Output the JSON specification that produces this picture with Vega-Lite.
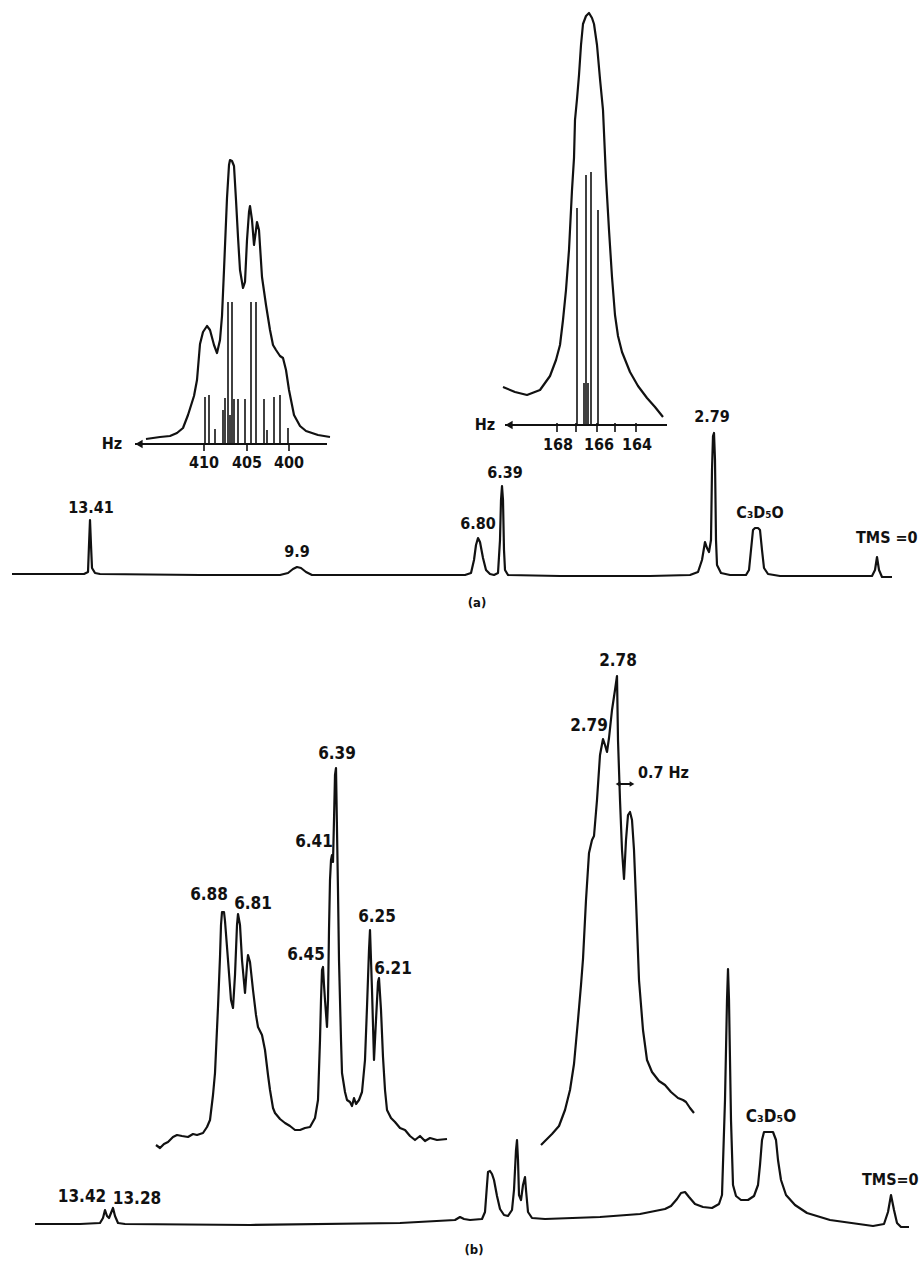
{
"$schema": "https://vega.github.io/schema/vega-lite/v6.json",
"width": 923, "height": 1262, "padding": 0, "autosize": {"type": "none"},
"background": "white",
"config": {"view": {"stroke": null}},
"datasets": {
"curves": [
{"s":"am","x":12,"y":574},{"s":"am","x":60,"y":574},{"s":"am","x":84,"y":574},{"s":"am","x":88,"y":572},{"s":"am","x":89,"y":545},{"s":"am","x":90,"y":520},{"s":"am","x":91,"y":545},{"s":"am","x":92,"y":568},{"s":"am","x":95,"y":573},{"s":"am","x":100,"y":574},{"s":"am","x":200,"y":575},{"s":"am","x":280,"y":575},{"s":"am","x":288,"y":573},{"s":"am","x":293,"y":569},{"s":"am","x":297,"y":567},{"s":"am","x":301,"y":568},{"s":"am","x":306,"y":572},{"s":"am","x":312,"y":575},{"s":"am","x":400,"y":575},{"s":"am","x":465,"y":575},{"s":"am","x":471,"y":573},{"s":"am","x":474,"y":560},{"s":"am","x":476,"y":545},{"s":"am","x":478,"y":538},{"s":"am","x":480,"y":542},{"s":"am","x":483,"y":558},{"s":"am","x":486,"y":570},{"s":"am","x":490,"y":574},{"s":"am","x":494,"y":575},{"s":"am","x":498,"y":573},{"s":"am","x":500,"y":540},{"s":"am","x":501,"y":500},{"s":"am","x":502,"y":486},{"s":"am","x":503,"y":500},{"s":"am","x":504,"y":550},{"s":"am","x":505,"y":570},{"s":"am","x":508,"y":575},{"s":"am","x":560,"y":576},{"s":"am","x":650,"y":576},{"s":"am","x":690,"y":575},{"s":"am","x":698,"y":572},{"s":"am","x":702,"y":560},{"s":"am","x":705,"y":542},{"s":"am","x":707,"y":548},{"s":"am","x":709,"y":552},{"s":"am","x":711,"y":540},{"s":"am","x":712,"y":470},{"s":"am","x":713,"y":436},{"s":"am","x":714,"y":433},{"s":"am","x":715,"y":460},{"s":"am","x":716,"y":540},{"s":"am","x":717,"y":565},{"s":"am","x":721,"y":573},{"s":"am","x":730,"y":575},{"s":"am","x":746,"y":575},{"s":"am","x":749,"y":570},{"s":"am","x":751,"y":550},{"s":"am","x":753,"y":530},{"s":"am","x":755,"y":528},{"s":"am","x":758,"y":528},{"s":"am","x":760,"y":530},{"s":"am","x":762,"y":550},{"s":"am","x":764,"y":568},{"s":"am","x":768,"y":574},{"s":"am","x":780,"y":576},{"s":"am","x":860,"y":576},{"s":"am","x":872,"y":576},{"s":"am","x":875,"y":570},{"s":"am","x":877,"y":557},{"s":"am","x":879,"y":570},{"s":"am","x":882,"y":577},{"s":"am","x":892,"y":577},
{"s":"a1","x":146,"y":439},{"s":"a1","x":160,"y":437},{"s":"a1","x":170,"y":436},{"s":"a1","x":177,"y":433},{"s":"a1","x":183,"y":428},{"s":"a1","x":188,"y":415},{"s":"a1","x":194,"y":396},{"s":"a1","x":197,"y":380},{"s":"a1","x":200,"y":344},{"s":"a1","x":203,"y":332},{"s":"a1","x":207,"y":326},{"s":"a1","x":210,"y":330},{"s":"a1","x":214,"y":345},{"s":"a1","x":217,"y":353},{"s":"a1","x":220,"y":340},{"s":"a1","x":222,"y":316},{"s":"a1","x":224,"y":270},{"s":"a1","x":227,"y":198},{"s":"a1","x":229,"y":165},{"s":"a1","x":230,"y":160},{"s":"a1","x":232,"y":161},{"s":"a1","x":234,"y":166},{"s":"a1","x":236,"y":200},{"s":"a1","x":238,"y":237},{"s":"a1","x":240,"y":270},{"s":"a1","x":243,"y":288},{"s":"a1","x":245,"y":282},{"s":"a1","x":247,"y":240},{"s":"a1","x":249,"y":212},{"s":"a1","x":250,"y":206},{"s":"a1","x":252,"y":220},{"s":"a1","x":254,"y":245},{"s":"a1","x":256,"y":230},{"s":"a1","x":257,"y":222},{"s":"a1","x":259,"y":230},{"s":"a1","x":262,"y":277},{"s":"a1","x":266,"y":305},{"s":"a1","x":270,"y":330},{"s":"a1","x":273,"y":345},{"s":"a1","x":276,"y":350},{"s":"a1","x":280,"y":356},{"s":"a1","x":283,"y":358},{"s":"a1","x":286,"y":370},{"s":"a1","x":289,"y":390},{"s":"a1","x":294,"y":415},{"s":"a1","x":300,"y":426},{"s":"a1","x":306,"y":431},{"s":"a1","x":318,"y":435},{"s":"a1","x":330,"y":437},
{"s":"a2","x":503,"y":387},{"s":"a2","x":515,"y":392},{"s":"a2","x":527,"y":395},{"s":"a2","x":540,"y":390},{"s":"a2","x":550,"y":376},{"s":"a2","x":556,"y":360},{"s":"a2","x":560,"y":345},{"s":"a2","x":563,"y":320},{"s":"a2","x":566,"y":290},{"s":"a2","x":569,"y":250},{"s":"a2","x":572,"y":190},{"s":"a2","x":574,"y":158},{"s":"a2","x":575,"y":120},{"s":"a2","x":577,"y":99},{"s":"a2","x":579,"y":75},{"s":"a2","x":581,"y":45},{"s":"a2","x":583,"y":24},{"s":"a2","x":586,"y":16},{"s":"a2","x":589,"y":13},{"s":"a2","x":592,"y":18},{"s":"a2","x":594,"y":24},{"s":"a2","x":597,"y":45},{"s":"a2","x":600,"y":79},{"s":"a2","x":603,"y":110},{"s":"a2","x":606,"y":178},{"s":"a2","x":609,"y":230},{"s":"a2","x":612,"y":277},{"s":"a2","x":615,"y":315},{"s":"a2","x":618,"y":336},{"s":"a2","x":622,"y":352},{"s":"a2","x":630,"y":372},{"s":"a2","x":638,"y":386},{"s":"a2","x":647,"y":398},{"s":"a2","x":655,"y":407},{"s":"a2","x":663,"y":417},
{"s":"bm","x":35,"y":1224},{"s":"bm","x":80,"y":1224},{"s":"bm","x":100,"y":1223},{"s":"bm","x":103,"y":1218},{"s":"bm","x":105,"y":1210},{"s":"bm","x":107,"y":1216},{"s":"bm","x":109,"y":1218},{"s":"bm","x":111,"y":1213},{"s":"bm","x":113,"y":1208},{"s":"bm","x":115,"y":1216},{"s":"bm","x":118,"y":1223},{"s":"bm","x":125,"y":1224},{"s":"bm","x":250,"y":1225},{"s":"bm","x":400,"y":1223},{"s":"bm","x":455,"y":1220},{"s":"bm","x":460,"y":1217},{"s":"bm","x":464,"y":1219},{"s":"bm","x":470,"y":1220},{"s":"bm","x":482,"y":1219},{"s":"bm","x":485,"y":1212},{"s":"bm","x":487,"y":1185},{"s":"bm","x":488,"y":1172},{"s":"bm","x":490,"y":1171},{"s":"bm","x":492,"y":1174},{"s":"bm","x":494,"y":1180},{"s":"bm","x":497,"y":1196},{"s":"bm","x":500,"y":1209},{"s":"bm","x":504,"y":1215},{"s":"bm","x":508,"y":1216},{"s":"bm","x":512,"y":1210},{"s":"bm","x":514,"y":1190},{"s":"bm","x":516,"y":1150},{"s":"bm","x":517,"y":1140},{"s":"bm","x":518,"y":1160},{"s":"bm","x":519,"y":1195},{"s":"bm","x":521,"y":1200},{"s":"bm","x":523,"y":1185},{"s":"bm","x":525,"y":1177},{"s":"bm","x":526,"y":1190},{"s":"bm","x":528,"y":1212},{"s":"bm","x":532,"y":1218},{"s":"bm","x":545,"y":1219},{"s":"bm","x":600,"y":1217},{"s":"bm","x":640,"y":1214},{"s":"bm","x":665,"y":1209},{"s":"bm","x":671,"y":1206},{"s":"bm","x":677,"y":1199},{"s":"bm","x":681,"y":1193},{"s":"bm","x":685,"y":1192},{"s":"bm","x":689,"y":1197},{"s":"bm","x":695,"y":1204},{"s":"bm","x":703,"y":1207},{"s":"bm","x":712,"y":1208},{"s":"bm","x":719,"y":1204},{"s":"bm","x":722,"y":1195},{"s":"bm","x":725,"y":1100},{"s":"bm","x":727,"y":1000},{"s":"bm","x":728,"y":969},{"s":"bm","x":729,"y":1000},{"s":"bm","x":731,"y":1120},{"s":"bm","x":733,"y":1185},{"s":"bm","x":736,"y":1196},{"s":"bm","x":741,"y":1200},{"s":"bm","x":748,"y":1200},{"s":"bm","x":754,"y":1196},{"s":"bm","x":758,"y":1185},{"s":"bm","x":760,"y":1165},{"s":"bm","x":762,"y":1140},{"s":"bm","x":764,"y":1132},{"s":"bm","x":773,"y":1132},{"s":"bm","x":776,"y":1140},{"s":"bm","x":778,"y":1160},{"s":"bm","x":781,"y":1180},{"s":"bm","x":786,"y":1195},{"s":"bm","x":795,"y":1205},{"s":"bm","x":807,"y":1213},{"s":"bm","x":830,"y":1220},{"s":"bm","x":873,"y":1226},{"s":"bm","x":884,"y":1224},{"s":"bm","x":888,"y":1212},{"s":"bm","x":891,"y":1195},{"s":"bm","x":894,"y":1210},{"s":"bm","x":897,"y":1223},{"s":"bm","x":901,"y":1227},{"s":"bm","x":909,"y":1227},
{"s":"b1","x":156,"y":1145},{"s":"b1","x":160,"y":1148},{"s":"b1","x":164,"y":1144},{"s":"b1","x":168,"y":1142},{"s":"b1","x":173,"y":1137},{"s":"b1","x":177,"y":1135},{"s":"b1","x":182,"y":1136},{"s":"b1","x":188,"y":1137},{"s":"b1","x":193,"y":1134},{"s":"b1","x":197,"y":1135},{"s":"b1","x":203,"y":1133},{"s":"b1","x":207,"y":1127},{"s":"b1","x":210,"y":1120},{"s":"b1","x":213,"y":1095},{"s":"b1","x":215,"y":1073},{"s":"b1","x":218,"y":1007},{"s":"b1","x":220,"y":957},{"s":"b1","x":221,"y":925},{"s":"b1","x":222,"y":912},{"s":"b1","x":224,"y":912},{"s":"b1","x":225,"y":921},{"s":"b1","x":228,"y":960},{"s":"b1","x":231,"y":1000},{"s":"b1","x":233,"y":1008},{"s":"b1","x":235,"y":975},{"s":"b1","x":237,"y":925},{"s":"b1","x":238,"y":914},{"s":"b1","x":240,"y":925},{"s":"b1","x":242,"y":960},{"s":"b1","x":245,"y":993},{"s":"b1","x":247,"y":965},{"s":"b1","x":248,"y":955},{"s":"b1","x":250,"y":962},{"s":"b1","x":253,"y":990},{"s":"b1","x":256,"y":1015},{"s":"b1","x":258,"y":1027},{"s":"b1","x":262,"y":1035},{"s":"b1","x":265,"y":1050},{"s":"b1","x":268,"y":1075},{"s":"b1","x":270,"y":1090},{"s":"b1","x":273,"y":1108},{"s":"b1","x":275,"y":1113},{"s":"b1","x":280,"y":1119},{"s":"b1","x":285,"y":1123},{"s":"b1","x":290,"y":1126},{"s":"b1","x":295,"y":1130},{"s":"b1","x":300,"y":1130},{"s":"b1","x":305,"y":1128},{"s":"b1","x":310,"y":1127},{"s":"b1","x":315,"y":1118},{"s":"b1","x":318,"y":1100},{"s":"b1","x":320,"y":1040},{"s":"b1","x":321,"y":1000},{"s":"b1","x":322,"y":970},{"s":"b1","x":323,"y":967},{"s":"b1","x":324,"y":985},{"s":"b1","x":325,"y":1000},{"s":"b1","x":327,"y":1027},{"s":"b1","x":328,"y":1000},{"s":"b1","x":329,"y":930},{"s":"b1","x":330,"y":880},{"s":"b1","x":331,"y":860},{"s":"b1","x":332,"y":855},{"s":"b1","x":333,"y":862},{"s":"b1","x":334,"y":820},{"s":"b1","x":335,"y":775},{"s":"b1","x":336,"y":768},{"s":"b1","x":337,"y":830},{"s":"b1","x":338,"y":891},{"s":"b1","x":339,"y":960},{"s":"b1","x":341,"y":1040},{"s":"b1","x":342,"y":1073},{"s":"b1","x":345,"y":1092},{"s":"b1","x":347,"y":1100},{"s":"b1","x":350,"y":1102},{"s":"b1","x":352,"y":1106},{"s":"b1","x":354,"y":1098},{"s":"b1","x":356,"y":1104},{"s":"b1","x":359,"y":1100},{"s":"b1","x":362,"y":1092},{"s":"b1","x":365,"y":1060},{"s":"b1","x":367,"y":1007},{"s":"b1","x":369,"y":950},{"s":"b1","x":370,"y":930},{"s":"b1","x":372,"y":990},{"s":"b1","x":374,"y":1060},{"s":"b1","x":376,"y":1020},{"s":"b1","x":378,"y":982},{"s":"b1","x":379,"y":978},{"s":"b1","x":381,"y":1010},{"s":"b1","x":383,"y":1057},{"s":"b1","x":385,"y":1090},{"s":"b1","x":387,"y":1110},{"s":"b1","x":391,"y":1118},{"s":"b1","x":395,"y":1122},{"s":"b1","x":400,"y":1128},{"s":"b1","x":405,"y":1130},{"s":"b1","x":410,"y":1136},{"s":"b1","x":415,"y":1140},{"s":"b1","x":420,"y":1136},{"s":"b1","x":425,"y":1141},{"s":"b1","x":430,"y":1138},{"s":"b1","x":437,"y":1140},{"s":"b1","x":447,"y":1139},
{"s":"b2","x":541,"y":1145},{"s":"b2","x":546,"y":1140},{"s":"b2","x":552,"y":1134},{"s":"b2","x":559,"y":1126},{"s":"b2","x":565,"y":1110},{"s":"b2","x":570,"y":1090},{"s":"b2","x":574,"y":1064},{"s":"b2","x":578,"y":1020},{"s":"b2","x":581,"y":985},{"s":"b2","x":583,"y":959},{"s":"b2","x":586,"y":900},{"s":"b2","x":589,"y":853},{"s":"b2","x":592,"y":840},{"s":"b2","x":594,"y":836},{"s":"b2","x":597,"y":800},{"s":"b2","x":600,"y":755},{"s":"b2","x":603,"y":739},{"s":"b2","x":605,"y":745},{"s":"b2","x":607,"y":752},{"s":"b2","x":609,"y":738},{"s":"b2","x":612,"y":710},{"s":"b2","x":615,"y":690},{"s":"b2","x":617,"y":676},{"s":"b2","x":618,"y":740},{"s":"b2","x":620,"y":800},{"s":"b2","x":622,"y":850},{"s":"b2","x":624,"y":879},{"s":"b2","x":626,"y":840},{"s":"b2","x":628,"y":815},{"s":"b2","x":630,"y":812},{"s":"b2","x":632,"y":820},{"s":"b2","x":634,"y":850},{"s":"b2","x":636,"y":900},{"s":"b2","x":639,"y":980},{"s":"b2","x":643,"y":1030},{"s":"b2","x":647,"y":1060},{"s":"b2","x":652,"y":1072},{"s":"b2","x":659,"y":1081},{"s":"b2","x":665,"y":1085},{"s":"b2","x":671,"y":1092},{"s":"b2","x":678,"y":1098},{"s":"b2","x":683,"y":1100},{"s":"b2","x":686,"y":1102},{"s":"b2","x":690,"y":1108},{"s":"b2","x":694,"y":1113}
],
"sticks": [
{"x":205,"y":397,"y2":444},{"x":209,"y":395,"y2":444},{"x":215,"y":429,"y2":444},{"x":223,"y":410,"y2":444},{"x":225,"y":398,"y2":444},{"x":228,"y":302,"y2":444},{"x":230,"y":415,"y2":444},{"x":232,"y":302,"y2":444},{"x":234,"y":399,"y2":444},{"x":238,"y":399,"y2":444},{"x":245,"y":399,"y2":444},{"x":251,"y":302,"y2":444},{"x":256,"y":302,"y2":444},{"x":264,"y":399,"y2":444},{"x":267,"y":430,"y2":444},{"x":274,"y":397,"y2":444},{"x":280,"y":395,"y2":444},{"x":288,"y":428,"y2":444},
{"x":577,"y":208,"y2":425},{"x":584,"y":383,"y2":425},{"x":586,"y":175,"y2":425},{"x":588,"y":383,"y2":425},{"x":591,"y":172,"y2":425},{"x":598,"y":210,"y2":425},
{"x":204,"y":444,"y2":451},{"x":247,"y":444,"y2":451},{"x":289,"y":444,"y2":451},
{"x":557,"y":423,"y2":432},{"x":576,"y":423,"y2":432},{"x":597,"y":423,"y2":432},{"x":615,"y":423,"y2":432},{"x":636,"y":423,"y2":432}
],
"axes": [
{"x":135,"x2":327,"y":444},{"x":505,"x2":667,"y":425},{"x":618,"x2":632,"y":784}
],
"arrows": [
{"k":"hz","d":"L","x":139,"y":444},{"k":"hz","d":"L","x":509,"y":425},{"k":"j","d":"L","x":618,"y":784},{"k":"j","d":"R","x":632,"y":784}
],
"labels": [
{"g":"a","t":"13.41","x":91,"y":508},{"g":"a","t":"9.9","x":297,"y":552},{"g":"a","t":"6.80","x":478,"y":524},{"g":"a","t":"6.39","x":505,"y":473},{"g":"a","t":"2.79","x":712,"y":417},{"g":"a","t":"C₃D₅O","x":760,"y":513},
{"g":"t","t":"Hz","x":112,"y":444},{"g":"t","t":"Hz","x":485,"y":425},{"g":"t","t":"410","x":204,"y":463},{"g":"t","t":"405","x":247,"y":463},{"g":"t","t":"400","x":289,"y":463},{"g":"t","t":"168","x":558,"y":445},{"g":"t","t":"166","x":599,"y":445},{"g":"t","t":"164","x":637,"y":445},
{"g":"p","t":"(a)","x":477,"y":603},{"g":"p","t":"(b)","x":474,"y":1250},
{"g":"b","t":"13.42","x":82,"y":1197},{"g":"b","t":"13.28","x":137,"y":1199},{"g":"b","t":"6.88","x":209,"y":895},{"g":"b","t":"6.81","x":253,"y":904},{"g":"b","t":"6.45","x":306,"y":955},{"g":"b","t":"6.41","x":314,"y":842},{"g":"b","t":"6.39","x":337,"y":754},{"g":"b","t":"6.25","x":377,"y":917},{"g":"b","t":"6.21","x":393,"y":969},{"g":"b","t":"2.78","x":618,"y":661},{"g":"b","t":"2.79","x":589,"y":726},{"g":"b","t":"C₃D₅O","x":771,"y":1117},
{"g":"l","t":"0.7 Hz","x":638,"y":773},{"g":"l","t":"TMS =0","x":856,"y":538},{"g":"l","t":"TMS=0","x":862,"y":1180}
]
},
"layer": [
{"data": {"name": "curves"}, "mark": {"type": "line", "color": "#111", "strokeWidth": 2.2, "strokeJoin": "round"},
 "encoding": {
  "x": {"field": "x", "type": "quantitative", "scale": {"domain": [0, 923], "nice": false, "zero": false}, "axis": null},
  "y": {"field": "y", "type": "quantitative", "scale": {"domain": [0, 1262], "nice": false, "zero": false, "reverse": true}, "axis": null},
  "detail": {"field": "s", "type": "nominal"}}},
{"data": {"name": "sticks"}, "mark": {"type": "rule", "color": "#111", "strokeWidth": 1.6},
 "encoding": {
  "x": {"field": "x", "type": "quantitative", "scale": {"domain": [0, 923], "nice": false, "zero": false}, "axis": null},
  "y": {"field": "y", "type": "quantitative", "scale": {"domain": [0, 1262], "nice": false, "zero": false, "reverse": true}, "axis": null},
  "y2": {"field": "y2"}}},
{"data": {"name": "axes"}, "mark": {"type": "rule", "color": "#111", "strokeWidth": 2},
 "encoding": {
  "x": {"field": "x", "type": "quantitative", "scale": {"domain": [0, 923], "nice": false, "zero": false}, "axis": null},
  "x2": {"field": "x2"},
  "y": {"field": "y", "type": "quantitative", "scale": {"domain": [0, 1262], "nice": false, "zero": false, "reverse": true}, "axis": null}}},
{"data": {"name": "arrows"}, "transform": [{"filter": "datum.k === 'hz'"}], "mark": {"type": "point", "filled": true, "color": "#111", "size": 70, "opacity": 1},
 "encoding": {
  "x": {"field": "x", "type": "quantitative", "scale": {"domain": [0, 923], "nice": false, "zero": false}, "axis": null},
  "y": {"field": "y", "type": "quantitative", "scale": {"domain": [0, 1262], "nice": false, "zero": false, "reverse": true}, "axis": null},
  "shape": {"field": "d", "type": "nominal", "scale": {"domain": ["L", "R"], "range": ["triangle-left", "triangle-right"]}, "legend": null}}},
{"data": {"name": "arrows"}, "transform": [{"filter": "datum.k === 'j'"}], "mark": {"type": "point", "filled": true, "color": "#111", "size": 30, "opacity": 1},
 "encoding": {
  "x": {"field": "x", "type": "quantitative", "scale": {"domain": [0, 923], "nice": false, "zero": false}, "axis": null},
  "y": {"field": "y", "type": "quantitative", "scale": {"domain": [0, 1262], "nice": false, "zero": false, "reverse": true}, "axis": null},
  "shape": {"field": "d", "type": "nominal", "scale": {"domain": ["L", "R"], "range": ["triangle-left", "triangle-right"]}, "legend": null}}},
{"data": {"name": "labels"}, "transform": [{"filter": "datum.g === 'a' || datum.g === 't'"}], "mark": {"type": "text", "font": "DejaVu Sans Condensed, DejaVu Sans", "fontWeight": "bold", "fontSize": 16, "color": "#111", "align": "center", "baseline": "middle"},
 "encoding": {
  "x": {"field": "x", "type": "quantitative", "scale": {"domain": [0, 923], "nice": false, "zero": false}, "axis": null},
  "y": {"field": "y", "type": "quantitative", "scale": {"domain": [0, 1262], "nice": false, "zero": false, "reverse": true}, "axis": null},
  "text": {"field": "t"}}},
{"data": {"name": "labels"}, "transform": [{"filter": "datum.g === 'b'"}], "mark": {"type": "text", "font": "DejaVu Sans Condensed, DejaVu Sans", "fontWeight": "bold", "fontSize": 17, "color": "#111", "align": "center", "baseline": "middle"},
 "encoding": {
  "x": {"field": "x", "type": "quantitative", "scale": {"domain": [0, 923], "nice": false, "zero": false}, "axis": null},
  "y": {"field": "y", "type": "quantitative", "scale": {"domain": [0, 1262], "nice": false, "zero": false, "reverse": true}, "axis": null},
  "text": {"field": "t"}}},
{"data": {"name": "labels"}, "transform": [{"filter": "datum.g === 'l'"}], "mark": {"type": "text", "font": "DejaVu Sans Condensed, DejaVu Sans", "fontWeight": "bold", "fontSize": 16, "color": "#111", "align": "left", "baseline": "middle"},
 "encoding": {
  "x": {"field": "x", "type": "quantitative", "scale": {"domain": [0, 923], "nice": false, "zero": false}, "axis": null},
  "y": {"field": "y", "type": "quantitative", "scale": {"domain": [0, 1262], "nice": false, "zero": false, "reverse": true}, "axis": null},
  "text": {"field": "t"}}},
{"data": {"name": "labels"}, "transform": [{"filter": "datum.g === 'p'"}], "mark": {"type": "text", "font": "DejaVu Sans Condensed, DejaVu Sans", "fontWeight": "bold", "fontSize": 13, "color": "#111", "align": "center", "baseline": "middle"},
 "encoding": {
  "x": {"field": "x", "type": "quantitative", "scale": {"domain": [0, 923], "nice": false, "zero": false}, "axis": null},
  "y": {"field": "y", "type": "quantitative", "scale": {"domain": [0, 1262], "nice": false, "zero": false, "reverse": true}, "axis": null},
  "text": {"field": "t"}}}
]
}
